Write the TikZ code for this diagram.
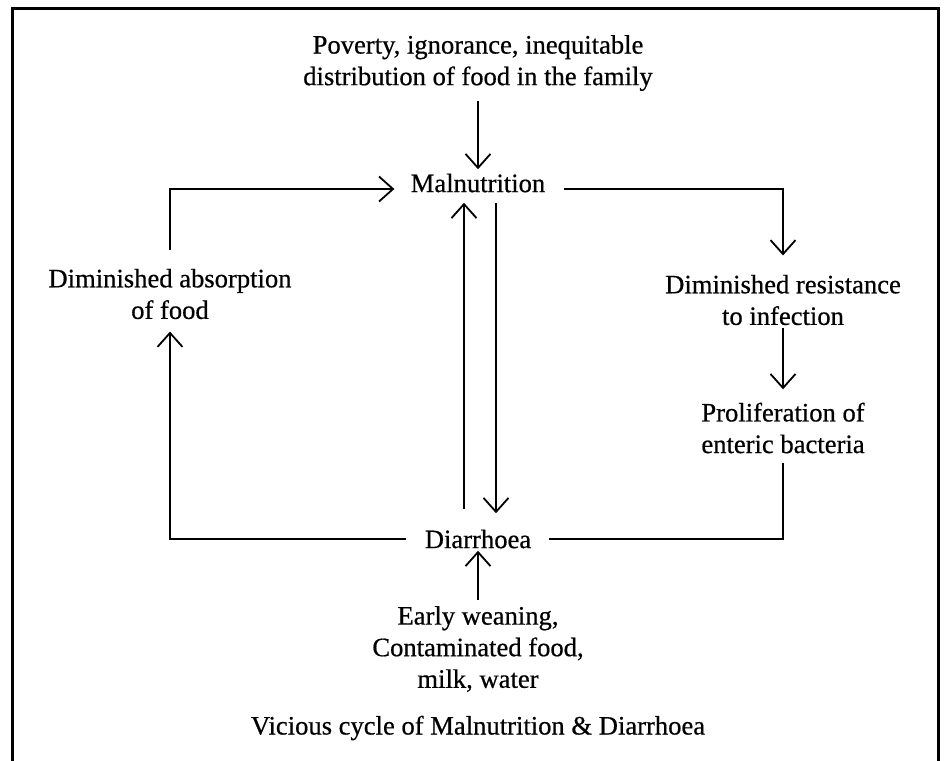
\documentclass[tikz,border=0pt]{standalone}
\usepackage{fontspec}
\setmainfont{Liberation Serif}[FakeBold=0.6]
\usetikzlibrary{arrows.meta,positioning}

\tikzset{
  lbl/.style={align=center, inner sep=0pt, font=\fontsize{13.3}{15.8}\selectfont},
  arr/.style={-{Straight Barb[length=7pt,width=12.5pt]}, line width=0.9pt},
  lin/.style={line width=0.9pt}
}

\begin{document}
\begin{tikzpicture}[x=0.5pt,y=-0.5pt]
        % Page and frame
        \useasboundingbox (0,0) rectangle (947,760);
        \draw[line width=1.5pt] (12,775) -- (12,8) -- (938,8) -- (938,775);
        % Text nodes
        \node[lbl] (poverty) at (478,63) {Poverty, ignorance, inequitable\\distribution of food in the family};
        \node[lbl] (maln) at (478,183) {Malnutrition};
        \node[lbl] (absorb) at (170,294) {Diminished absorption\\of food};
        \node[lbl] (resist) at (783,300) {Diminished resistance\\to infection};
        \node[lbl] (prolif) at (783,428) {Proliferation of\\enteric bacteria};
        \node[lbl] (diarr) at (478,539) {Diarrhoea};
        \node[lbl] (weaning) at (478,649) {Early weaning,\\Contaminated food,\\milk, water};
        \node[lbl] (caption) at (478,728) {Vicious cycle of Malnutrition \& Diarrhoea};
        % Causes
        \draw[arr, shorten <=5pt, shorten >=2pt] (poverty) -- (maln);
        \draw[arr, shorten <=3pt, shorten >=1pt] (weaning) -- (diarr);
        % Left side of the cycle
        \draw[arr, shorten <=9pt, shorten >=8pt] (absorb.north) |- ([yshift=-3pt]maln.west);
        \draw[arr, shorten <=9pt, shorten >=6pt] (diarr.west) -| (absorb.south);
        % Right side of the cycle
        \draw[arr, shorten <=9pt, shorten >=9.5pt] ([yshift=-3pt]maln.east) -| (resist.north);
        \draw[arr, shorten <=1pt, shorten >=6.5pt] (resist) -- (prolif);
        \draw[lin, shorten <=4.5pt, shorten >=8.5pt] (prolif.south) |- (diarr.east);
        % Middle pair
        \draw[arr, shorten <=10pt, shorten >=5pt] ([xshift=-7pt]diarr.north) -- ([xshift=-7pt]maln.south);
        \draw[arr, shorten <=5pt, shorten >=8pt] ([xshift=9pt]maln.south) -- ([xshift=9pt]diarr.north);
      \end{tikzpicture}
\end{document}
